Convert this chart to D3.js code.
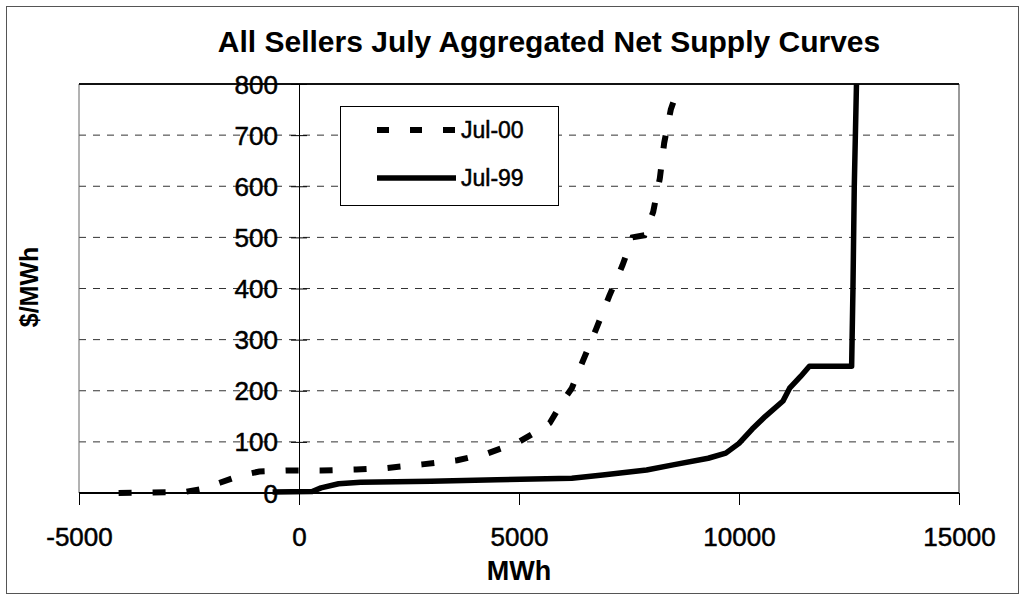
<!DOCTYPE html>
<html>
<head>
<meta charset="utf-8">
<script src="https://cdn.jsdelivr.net/npm/d3@7"></script>
<style>
  html, body { margin: 0; padding: 0; background: #fff; }
  svg { display: block; font-family: "Liberation Sans", Arial, Helvetica, sans-serif; }
  .heavy { stroke: #000; stroke-width: 0.5px; paint-order: stroke; }
</style>
</head>
<body>
<svg id="chart" width="1025" height="596"></svg>
<script>
// Aggregated net supply curves, [MWh, $/MWh]
const jul00 = [
  [-4100, 0], [-2600, 2], [-2200, 8], [-1800, 20], [-1300, 35], [-900, 42],
  [-300, 44], [500, 44], [1300, 46], [2000, 49], [2800, 56], [3600, 64],
  [4300, 78], [5000, 100], [5300, 115], [5700, 137], [6000, 180], [6200, 205],
  [6450, 258], [6750, 320], [7050, 385], [7350, 445], [7580, 500], [7850, 504],
  [8050, 550], [8200, 615], [8300, 685], [8450, 750], [8650, 800]
];
const jul99 = [
  [-600, 2], [300, 3], [500, 10], [900, 18], [1400, 21], [3000, 23],
  [4500, 26], [6200, 29], [6900, 35], [7900, 45], [8500, 55], [9300, 68],
  [9700, 78], [10000, 97], [10300, 125], [10600, 150], [11000, 180],
  [11150, 205], [11400, 228], [11600, 248], [12560, 248], [12590, 400],
  [12620, 600], [12670, 800]
];
const xTicks = [-5000, 0, 5000, 10000, 15000];
const yTicks = [0, 100, 200, 300, 400, 500, 600, 700, 800];
const seriesNames = ["Jul-00", "Jul-99"];

const svg = d3.select("#chart");

// outer chart frame
svg.append("rect")
  .attr("x", 6.5).attr("y", 6.5).attr("width", 1012).attr("height", 587)
  .attr("fill", "#fff").attr("stroke", "#555").attr("stroke-width", 1);

const x = d3.scaleLinear().domain([-5000, 15000]).range([79, 959]);
const y = d3.scaleLinear().domain([0, 800]).range([493, 84]);
const plain = d => String(d);

// horizontal dashed gridlines
svg.append("g")
  .selectAll("line")
  .data(yTicks.filter(v => v > 0 && v < 800))
  .join("line")
  .attr("x1", x(-5000)).attr("x2", x(15000))
  .attr("y1", d => y(d)).attr("y2", d => y(d))
  .attr("stroke", "#333").attr("stroke-width", 1)
  .attr("stroke-dasharray", "7,7");

// plot area border
svg.append("line")
  .attr("x1", x(-5000)).attr("x2", x(-5000)).attr("y1", y(800)).attr("y2", y(0))
  .attr("stroke", "#666").attr("stroke-width", 1);
svg.append("line")
  .attr("x1", x(15000)).attr("x2", x(15000)).attr("y1", y(800)).attr("y2", y(0))
  .attr("stroke", "#555").attr("stroke-width", 1.2);
svg.append("line")
  .attr("x1", x(-5000)).attr("x2", x(15000)).attr("y1", y(800)).attr("y2", y(800))
  .attr("stroke", "#111").attr("stroke-width", 1.8);

// value axis sitting on x = 0, labels drawn to the left of it
const yAxis = d3.axisLeft(y).tickValues(yTicks).tickSize(0).tickPadding(0).tickFormat(plain);
const gy = svg.append("g").attr("transform", `translate(${x(0)},0)`).call(yAxis);
gy.select(".domain").attr("stroke", "#000").attr("stroke-width", 1);
gy.selectAll(".tick line").remove();
gy.selectAll(".tick").append("line")
  .attr("x1", -8).attr("x2", 8).attr("stroke", "#000").attr("stroke-width", 1);
gy.selectAll(".tick text")
  .attr("class", "heavy")
  .attr("x", -21).attr("dy", "0.35em")
  .attr("font-size", 26).attr("fill", "#000")
  .attr("font-family", "'Liberation Sans', Arial, sans-serif");

// category axis along $0
const xAxis = d3.axisBottom(x).tickValues(xTicks).tickSize(12).tickPadding(0).tickFormat(plain);
const gx = svg.append("g").attr("transform", `translate(0,${y(0)})`).call(xAxis);
gx.select(".domain").attr("stroke", "#000").attr("stroke-width", 2).attr("d", `M${x(-5000)},0H${x(15000)}`);
gx.selectAll(".tick line").attr("stroke", "#000").attr("stroke-width", 1);
gx.selectAll(".tick text")
  .attr("class", "heavy")
  .attr("y", 53).attr("dy", 0)
  .attr("font-size", 26).attr("fill", "#000")
  .attr("font-family", "'Liberation Sans', Arial, sans-serif");

const line = d3.line().x(d => x(d[0])).y(d => y(d[1]));

svg.append("path")
  .datum(jul99)
  .attr("d", line)
  .attr("fill", "none").attr("stroke", "#000")
  .attr("stroke-width", 5.5).attr("stroke-linejoin", "round");

svg.append("path")
  .datum(jul00)
  .attr("d", line)
  .attr("fill", "none").attr("stroke", "#000")
  .attr("stroke-width", 6).attr("stroke-dasharray", "13,21");

// legend
const lg = svg.append("g");
lg.append("rect")
  .attr("x", 340.5).attr("y", 106.5).attr("width", 218).attr("height", 99)
  .attr("fill", "#fff").attr("stroke", "#000").attr("stroke-width", 1);
const legendRows = [
  { name: seriesNames[0], dash: "12,21", yPos: 130 },
  { name: seriesNames[1], dash: null, yPos: 178 }
];
legendRows.forEach(r => {
  lg.append("line")
    .attr("x1", 377).attr("x2", 456).attr("y1", r.yPos).attr("y2", r.yPos)
    .attr("stroke", "#000").attr("stroke-width", r.dash ? 6 : 5.5)
    .attr("stroke-dasharray", r.dash);
  lg.append("text")
    .attr("class", "heavy")
    .attr("x", 461).attr("y", r.yPos).attr("dy", "0.35em")
    .attr("font-size", 23).attr("fill", "#000")
    .text(r.name);
});

// titles
svg.append("text")
  .attr("x", 549).attr("y", 52).attr("text-anchor", "middle")
  .attr("font-size", 30).attr("font-weight", "bold")
  .text("All Sellers July Aggregated Net Supply Curves");

svg.append("text")
  .attr("x", 519).attr("y", 580).attr("text-anchor", "middle")
  .attr("font-size", 27).attr("font-weight", "bold")
  .text("MWh");

svg.append("text")
  .attr("transform", "translate(38,287) rotate(-90)")
  .attr("text-anchor", "middle")
  .attr("font-size", 25).attr("font-weight", "bold")
  .text("$/MWh");
</script>
</body>
</html>
